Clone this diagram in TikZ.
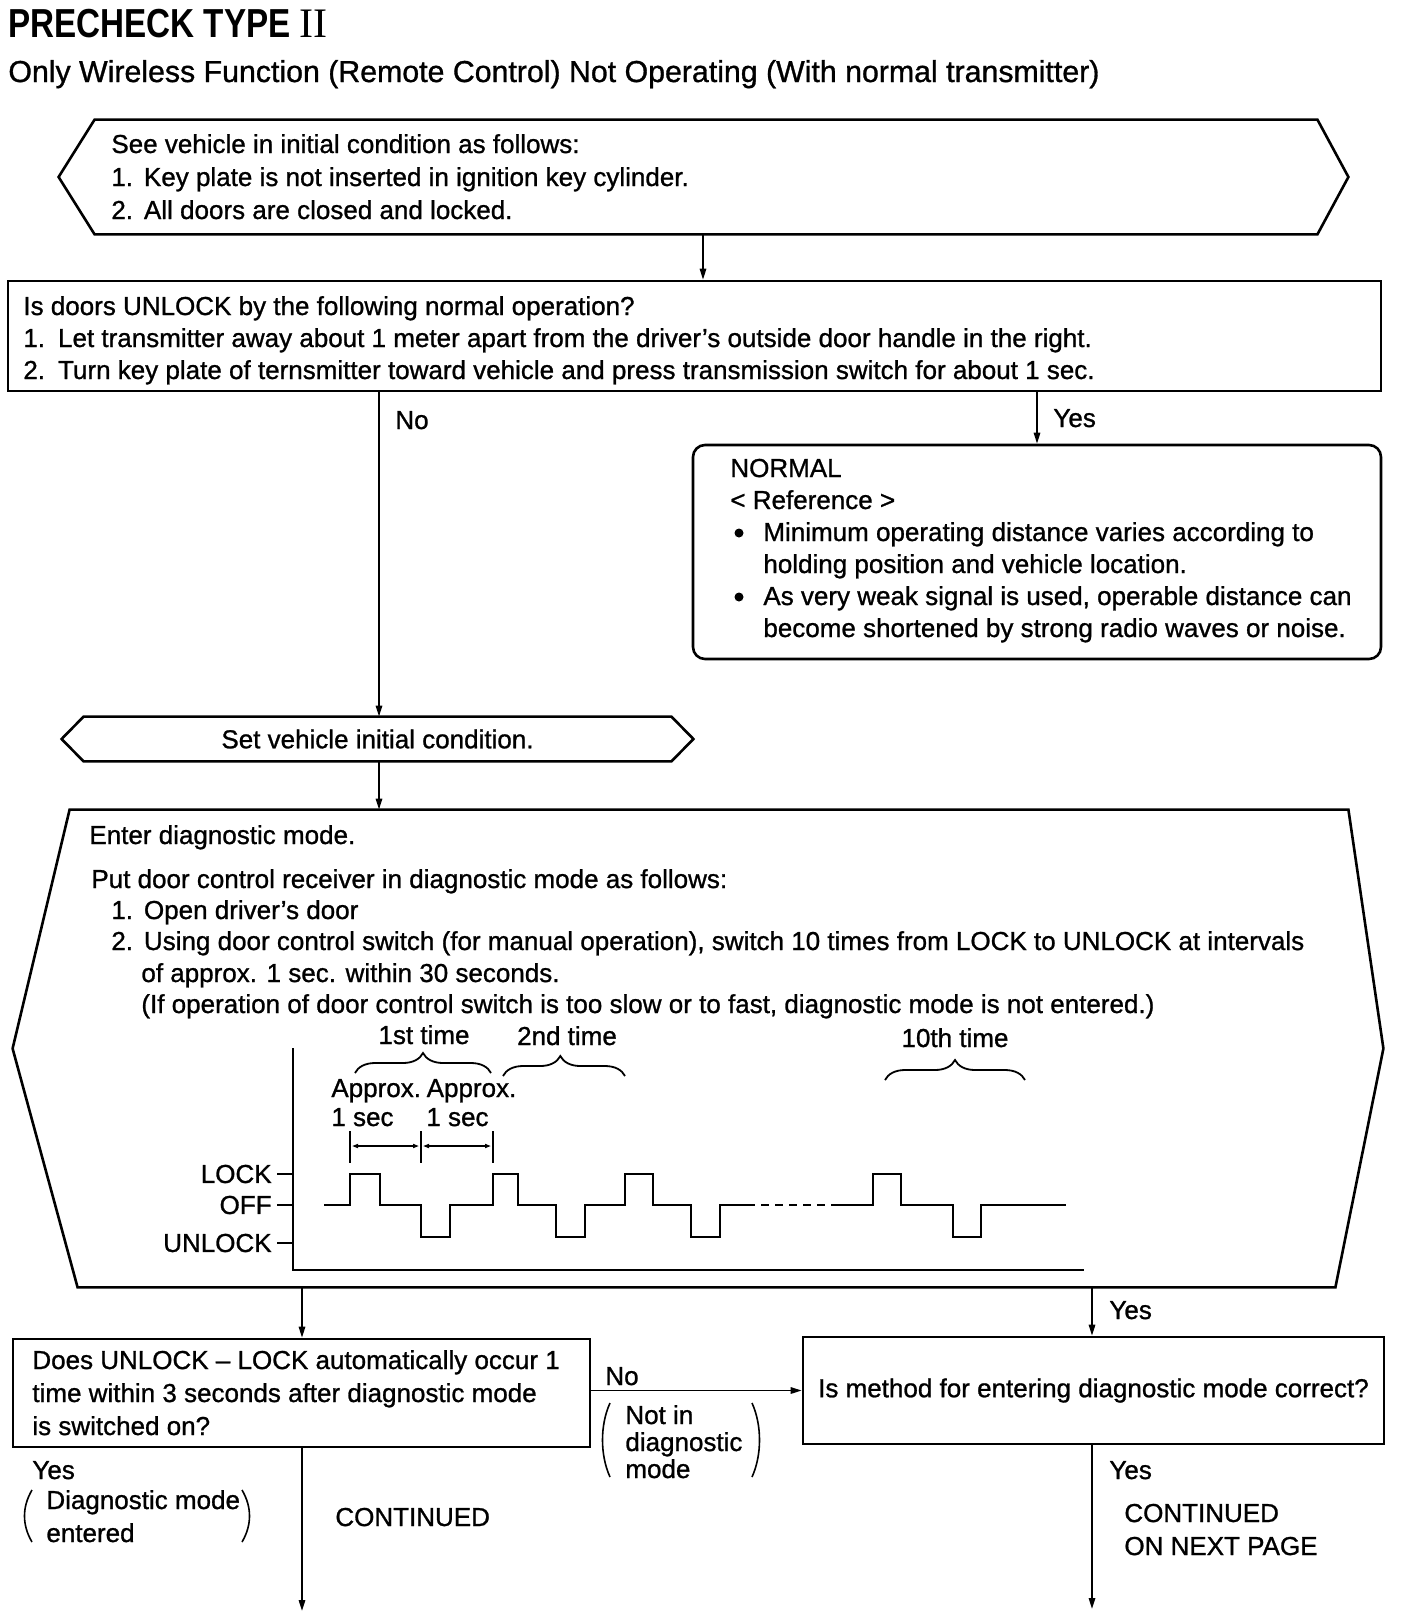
\documentclass[tikz,border=0pt]{standalone}
\usepackage{fontspec}
\setmainfont{Liberation Sans}[FakeBold=1.0]
\newfontfamily\titlefont[FakeStretch=0.82]{Liberation Sans}
\newfontfamily\romanfont{Liberation Serif}
\usetikzlibrary{arrows.meta,calc,decorations.pathreplacing}
\newcommand{\nsp}{\hspace{0.42em}}
\tikzset{
  txt/.style={anchor=base west, inner sep=0pt, font=\fontsize{13pt}{16pt}\selectfont},
  ctxt/.style={inner sep=0pt, font=\fontsize{13pt}{16pt}\selectfont},
  frame/.style={line width=1.3pt, line join=miter},
  hold/.style={draw=none, inner sep=0pt, rectangle},
  conn/.style={line width=0.9pt, -{Triangle[length=5.5pt,width=3.2pt]}},
  plain/.style={line width=0.9pt},
  sig/.style={line width=1.3pt, line join=miter},
  dim/.style={line width=0.8pt, {Triangle[length=3pt,width=2pt]}-{Triangle[length=3pt,width=2pt]}},
  bracestyle/.style={line width=0.9pt, decorate, decoration={brace, amplitude=10pt}},
  paren/.style={line width=0.8pt},
  bul/.style={circle, fill, inner sep=0pt, minimum size=4.5pt}
}
\begin{document}
\begin{tikzpicture}[x=0.5pt,y=-0.5pt]
\useasboundingbox (0,0) rectangle (1408,1622);

% ---- title ----
\node[anchor=base west, inner sep=0pt] (title) at (8,37)
  {\titlefont\bfseries\fontsize{20.25pt}{24pt}\selectfont PRECHECK TYPE \romanfont\mdseries\fontsize{21pt}{24pt}\selectfont II};
\node[txt, font=\fontsize{15.15pt}{18pt}\selectfont] (sub) at (8,82)
  {Only Wireless Function (Remote Control) Not Operating (With normal transmitter)};

% ---- box 1 ----
\node[hold, minimum width=611pt, minimum height=57pt] (b1) at (706,177) {};
\draw[frame] (b1.north west) -- ($(b1.west)+(-36,0)$) -- (b1.south west) -- (b1.south east)
  -- ($(b1.east)+(31,0)$) -- (b1.north east) -- cycle;
\node[txt] (b1l1) at (111,153) {See vehicle in initial condition as follows:};
\node[txt] (b1l2) at (111,186) {1.\nsp Key plate is not inserted in ignition key cylinder.};
\node[txt] (b1l3) at (111,219) {2.\nsp All doors are closed and locked.};

% ---- box 2 ----
\node[hold, draw, frame, minimum width=686.5pt, minimum height=55pt] (b2) at (694.5,336) {};
\node[txt] (b2l1) at (23,315) {Is doors UNLOCK by the following normal operation?};
\node[txt] (b2l2) at (23,347) {1.\hspace{0.5em}Let transmitter away about 1 meter apart from the driver’s outside door handle in the right.};
\node[txt] (b2l3) at (23,379) {2.\hspace{0.5em}Turn key plate of ternsmitter toward vehicle and press transmission switch for about 1 sec.};

% ---- normal box ----
\node[hold, draw, frame, rounded corners=6pt, minimum width=344pt, minimum height=107pt] (nb) at (1037,552) {};
\node[txt] (n1) at (730,477) {NORMAL};
\node[txt] (n2) at (730,509) {< Reference >};
\node[bul] (nbul1) at (739,533) {};
\node[txt] (n3) at (763,541) {Minimum operating distance varies according to};
\node[txt] (n4) at (763,573) {holding position and vehicle location.};
\node[bul] (nbul2) at (739,597) {};
\node[txt] (n5) at (763,605) {As very weak signal is used, operable distance can};
\node[txt] (n6) at (763,637) {become shortened by strong radio waves or noise.};

% ---- set box ----
\node[hold, minimum width=293.5pt, minimum height=22pt] (sb) at (377.5,739) {};
\draw[frame] (sb.north west) -- ($(sb.west)+(-22,0)$) -- (sb.south west) -- (sb.south east)
  -- ($(sb.east)+(22,0)$) -- (sb.north east) -- cycle;
\node[ctxt] (sbt) at (sb.center) {Set vehicle initial condition.};

% ---- diag box ----
\node[hold, minimum width=639pt, minimum height=238.5pt] (db) at (709,1048.5) {};
\draw[frame] (db.north west) -- ($(db.west)+(-57,0)$) -- ($(db.south west)+(8,0)$)
  -- ($(db.south east)+(-13,0)$) -- ($(db.east)+(35,0)$) -- (db.north east) -- cycle;
\node[txt] (d1) at (89,844) {Enter diagnostic mode.};
\node[txt] (d2) at (91,888) {Put door control receiver in diagnostic mode as follows:};
\node[txt] (d3) at (111,919) {1.\nsp Open driver’s door};
\node[txt] (d4) at (111,950) {2.\nsp Using door control switch (for manual operation), switch 10 times from LOCK to UNLOCK at intervals};
\node[txt] (d5) at (141,982) {of approx. 1 sec. within 30 seconds.};
\node[txt] (d6) at (141,1013) {(If operation of door control switch is too slow or to fast, diagnostic mode is not entered.)};

% ---- chart ----
\draw[plain] (293,1048) -- (293,1270) -- (1084,1270);
\draw[plain] (277,1174) -- (293,1174);
\draw[plain] (277,1205) -- (293,1205);
\draw[plain] (277,1243) -- (293,1243);
\node[ctxt, anchor=east] (lk) at (272,1174) {LOCK};
\node[ctxt, anchor=east] (of) at (272,1205) {OFF};
\node[ctxt, anchor=east] (ul) at (272,1243) {UNLOCK};
\draw[sig] (324,1205) -- (350,1205) -- (350,1174) -- (380,1174) -- (380,1205) -- (421,1205)
  -- (421,1237) -- (450,1237) -- (450,1205) -- (493,1205) -- (493,1174) -- (518,1174)
  -- (518,1205) -- (556,1205) -- (556,1237) -- (585,1237) -- (585,1205) -- (625,1205)
  -- (625,1174) -- (653,1174) -- (653,1205) -- (691,1205) -- (691,1237) -- (720,1237)
  -- (720,1205) -- (747,1205);
\draw[sig, dash pattern=on 4pt off 3pt] (747,1205) -- (836,1205);
\draw[sig] (836,1205) -- (873,1205) -- (873,1174) -- (901,1174) -- (901,1205) -- (953,1205)
  -- (953,1237) -- (981,1237) -- (981,1205) -- (1066,1205);
% timing marks
\draw[plain] (350,1131) -- (350,1163);
\draw[plain] (421,1131) -- (421,1163);
\draw[plain] (493,1131) -- (493,1163);
\draw[dim] (352,1146) -- (419,1146);
\draw[dim] (423,1146) -- (491,1146);
\node[txt] (ap) at (331,1097) {Approx.\hspace{-0.15em} Approx.};
\node[txt] (s1) at (331,1126) {1 sec};
\node[txt] (s2) at (426,1126) {1 sec};
% braces
\draw[bracestyle] (355,1073) -- (491,1073);
\draw[bracestyle, decoration={brace, amplitude=10pt, aspect=0.47}] (503,1076) -- (625,1076);
\draw[bracestyle] (885,1080) -- (1025,1080);
\node[ctxt, anchor=base] (t1) at (424,1044) {1st time};
\node[ctxt, anchor=base] (t2) at (567,1045) {2nd time};
\node[ctxt, anchor=base] (t10) at (955,1047) {10th time};

% ---- bottom boxes ----
\node[hold, draw, frame, minimum width=288.5pt, minimum height=54pt] (q1) at (301.5,1393) {};
\node[txt] (q1l1) at (32,1369) {Does UNLOCK – LOCK automatically occur 1};
\node[txt] (q1l2) at (32,1402) {time within 3 seconds after diagnostic mode};
\node[txt] (q1l3) at (32,1435) {is switched on?};

\node[hold, draw, frame, minimum width=290.5pt, minimum height=53.5pt] (q2) at (1093.5,1390.5) {};
\node[ctxt] (q2t) at (q2.center) {Is method for entering diagnostic mode correct?};

% ---- connectors ----
\coordinate (xa) at (703,0);
\coordinate (xno) at (379,0);
\coordinate (xyes) at (1037,0);
\coordinate (xl) at (302,0);
\coordinate (xr) at (1092,0);
\coordinate (endl) at (302,1611);
\coordinate (endr) at (1092,1609);

\draw[conn] (b1.south -| xa) -- (b2.north -| xa);
\draw[conn] (b2.south -| xno) -- (sb.north -| xno);
\draw[conn] (b2.south -| xyes) -- (nb.north -| xyes);
\draw[conn] (sb.south -| xno) -- (db.north -| xno);
\draw[conn] (db.south -| xl) -- (q1.north -| xl);
\draw[conn] (db.south -| xr) -- (q2.north -| xr);
\draw[conn] (q1.east |- q2.west) -- (q2.west);
\draw[conn] (q1.south -| xl) -- (endl);
\draw[conn] (q2.south -| xr) -- (endr);

% ---- labels ----
\node[txt] (lno1) at (395,429) {No};
\node[txt] (lyes1) at (1053,427) {Yes};
\node[txt] (lyes2) at (1109,1319) {Yes};
\node[txt] (lno2) at (605,1385) {No};
\node[txt] (ni1) at (625,1424) {Not in};
\node[txt] (ni2) at (625,1451) {diagnostic};
\node[txt] (ni3) at (625,1478) {mode};
\draw[paren] (610,1403) .. controls (600,1425) and (600,1455) .. (610,1477);
\draw[paren] (752,1403) .. controls (762,1425) and (762,1455) .. (752,1477);
\node[txt] (lyes3) at (32,1479) {Yes};
\node[txt] (de1) at (46,1509) {Diagnostic mode};
\node[txt] (de2) at (46,1542) {entered};
\draw[paren] (32,1490) .. controls (22,1507) and (22,1525) .. (32,1542);
\draw[paren] (242,1490) .. controls (252,1507) and (252,1525) .. (242,1542);
\node[txt] (cont1) at (335,1526) {CONTINUED};
\node[txt] (lyes4) at (1109,1479) {Yes};
\node[txt] (cont2) at (1124,1522) {CONTINUED};
\node[txt] (cont3) at (1124,1555) {ON NEXT PAGE};
\end{tikzpicture}
\end{document}
